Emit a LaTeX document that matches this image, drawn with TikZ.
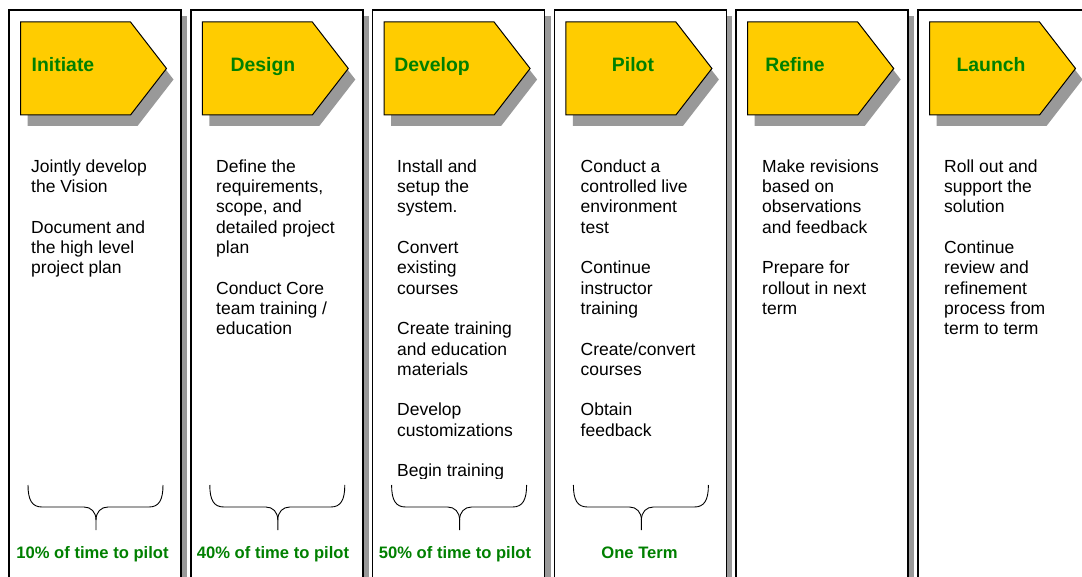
\documentclass[tikz,border=0pt]{standalone}
\usepackage{fontspec}
\setmainfont{Liberation Sans}
\usetikzlibrary{positioning}
\definecolor{phaseyellow}{RGB}{255,204,0}
\definecolor{phasegreen}{RGB}{0,128,0}
\definecolor{shadowgray}{RGB}{153,153,153}

\begin{document}
\begin{tikzpicture}[x=1pt,y=-1pt,
	ttl/.style={font=\fontsize{19.4}{23}\selectfont\bfseries, text=phasegreen, anchor=base, inner sep=0},
	txt/.style={font=\fontsize{17.5}{20.3}\selectfont, align=left, anchor=north west, inner sep=0},
	pct/.style={font=\fontsize{16.6}{20}\selectfont\bfseries, text=phasegreen, anchor=base, inner sep=0}]
\useasboundingbox (0,0) rectangle (1082,577);
% columns and arrows
\foreach \col in {9,190.8,372.6,554.4,736.2,918}{
	\fill[shadowgray] (\col+6,16) rectangle (\col+178,600);
	\draw[line width=1.5pt, fill=white] (\col,10) rectangle (\col+172,600);
	\fill[shadowgray] (\col+18.5,33) -- ++(110,0) -- ++(36,46.5) -- ++(-36,46.5) -- ++(-110,0) -- cycle;
	\draw[fill=phaseyellow, line width=1pt] (\col+11.5,22) -- ++(110,0) -- ++(36,46.5) -- ++(-36,46.5) -- ++(-110,0) -- cycle;
}
% braces
\foreach \col in {9,190.8,372.6,554.4}{
	\draw[line width=0.9pt] (\col+19,485) .. controls (\col+19,500) and (\col+23,507) .. (\col+33,507) -- (\col+75,507) .. controls (\col+82,507) and (\col+87,512) .. (\col+87,520) -- (\col+87,530);
	\draw[line width=0.9pt] (\col+87,520) .. controls (\col+87,512) and (\col+92,507) .. (\col+99,507) -- (\col+140,507) .. controls (\col+150,507) and (\col+154,500) .. (\col+154,485);
}
\node[ttl] (initiate) at (63,71.5) {Initiate};
\node[ttl] (design) at (263,71.5) {Design};
\node[ttl] (develop) at (432,71.5) {Develop};
\node[ttl] (pilot) at (633,71.5) {Pilot};
\node[ttl] (refine) at (795,71.5) {Refine};
\node[ttl] (launch) at (991,71.5) {Launch};
\begin{scope}
\clip (0,140) rectangle (1082,478.5);
\node[txt] (vision) at (31,159.5) {Jointly develop\\the Vision\\[20.3pt]Document and\\the high level\\project plan};
\node[txt] (scope) at (216,159.5) {Define the\\requirements,\\scope, and\\detailed project\\plan\\[20.3pt]Conduct Core\\team training /\\education};
\node[txt] (install) at (397,159.5) {Install and\\setup the\\system.\\[20.3pt]Convert\\existing\\courses\\[20.3pt]Create training\\and education\\materials\\[20.3pt]Develop\\customizations\\[20.3pt]Begin training};
\node[txt] (live) at (580.5,159.5) {Conduct a\\controlled live\\environment\\test\\[20.3pt]Continue\\instructor\\training\\[20.3pt]Create/convert\\courses\\[20.3pt]Obtain\\feedback};
\node[txt] (revise) at (762,159.5) {Make revisions\\based on\\observations\\and feedback\\[20.3pt]Prepare for\\rollout in next\\term};
\node[txt] (rollout) at (944,159.5) {Roll out and\\support the\\solution\\[20.3pt]Continue\\review and\\refinement\\process from\\term to term};
\end{scope}
\node[pct] (ten) at (92.5,558.3) {10\% of time to pilot};
\node[pct] (forty) at (273,558.3) {40\% of time to pilot};
\node[pct] (fifty) at (455,558.3) {50\% of time to pilot};
\node[pct] (term) at (639.5,558.3) {One Term};
\end{tikzpicture}
\end{document}
